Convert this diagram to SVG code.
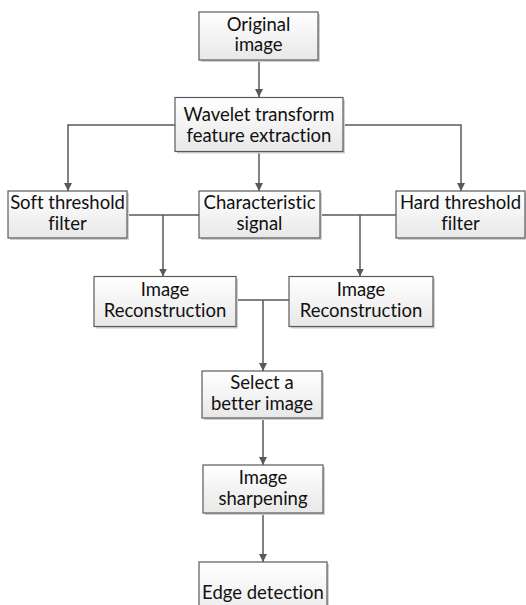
<svg xmlns="http://www.w3.org/2000/svg" width="526" height="605" viewBox="0 0 526 605">
<defs>
<linearGradient id="g" x1="0" y1="0" x2="0" y2="1">
<stop offset="0" stop-color="#ffffff"/>
<stop offset="1" stop-color="#e8e8e8"/>
</linearGradient>
<marker id="a" viewBox="0 0 10 10" refX="10" refY="5" markerWidth="8" markerHeight="8" markerUnits="userSpaceOnUse" orient="auto">
<path d="M0,0 L10,5 L0,10 z" fill="#595959"/>
</marker>
<style>
.s{fill:#d0d0d0;stroke:none}
.b{fill:url(#g);stroke:#5a5a5a;stroke-width:1.2}
text{font-family:Lato,"Open Sans","Liberation Sans",sans-serif;font-size:18.5px;fill:#111111;text-anchor:middle;font-variant-ligatures:none;font-feature-settings:"liga" 0,"dlig" 0}
.c{fill:none;stroke:#595959;stroke-width:1.5}
.ar{marker-end:url(#a)}
</style>
</defs>
<rect width="526" height="605" fill="#ffffff"/>
<g id="connectors">
<path class="c ar" d="M259,60 V97"/>
<path class="c ar" d="M175,125 H68 V191"/>
<path class="c ar" d="M259,151.5 V191"/>
<path class="c ar" d="M343,125 H461 V191"/>
<path class="c" d="M127,215 H199"/>
<path class="c ar" d="M163,215 V276.5"/>
<path class="c" d="M320,215 H396"/>
<path class="c ar" d="M360,215 V276.5"/>
<path class="c" d="M236,300 H289"/>
<path class="c ar" d="M263,300 V371"/>
<path class="c ar" d="M263,418 V465"/>
<path class="c ar" d="M263,513 V562"/>
</g>
<g id="n1">
<rect class="s" x="201" y="14" width="119" height="48"/>
<rect class="b" x="199" y="12" width="119" height="48"/>
<text x="258.5" y="31">Original</text>
<text x="258.5" y="51">image</text>
</g>
<g id="n2">
<rect class="s" x="177" y="99.5" width="168" height="54"/>
<rect class="b" x="175" y="97.5" width="168" height="54"/>
<text x="259" y="121">Wavelet transform</text>
<text x="259" y="142">feature extraction</text>
</g>
<g id="n3">
<rect class="s" x="10" y="193" width="119" height="47"/>
<rect class="b" x="8" y="191" width="119" height="47"/>
<text x="67.5" y="209">Soft threshold</text>
<text x="67.5" y="230">filter</text>
</g>
<g id="n4">
<rect class="s" x="201" y="193" width="121" height="47"/>
<rect class="b" x="199" y="191" width="121" height="47"/>
<text x="259.5" y="209">Characteristic</text>
<text x="259.5" y="230">signal</text>
</g>
<g id="n5">
<rect class="s" x="398" y="193" width="129" height="47"/>
<rect class="b" x="396" y="191" width="129" height="47"/>
<text x="460.5" y="209">Hard threshold</text>
<text x="460.5" y="230">filter</text>
</g>
<g id="n6">
<rect class="s" x="96" y="278.5" width="142" height="50"/>
<rect class="b" x="94" y="276.5" width="142" height="50"/>
<text x="165" y="296">Image</text>
<text x="165" y="317">Reconstruction</text>
</g>
<g id="n7">
<rect class="s" x="291" y="278.5" width="144" height="50"/>
<rect class="b" x="289" y="276.5" width="144" height="50"/>
<text x="361" y="296">Image</text>
<text x="361" y="317">Reconstruction</text>
</g>
<g id="n8">
<rect class="s" x="204" y="373" width="120" height="47"/>
<rect class="b" x="202" y="371" width="120" height="47"/>
<text x="262" y="389">Select a</text>
<text x="262" y="410">better image</text>
</g>
<g id="n9">
<rect class="s" x="205" y="467" width="120" height="48"/>
<rect class="b" x="203" y="465" width="120" height="48"/>
<text x="263" y="484">Image</text>
<text x="263" y="505">sharpening</text>
</g>
<g id="n10">
<rect class="s" x="201" y="564" width="128" height="60"/>
<rect class="b" x="199" y="562" width="128" height="60"/>
<text x="263" y="599">Edge detection</text>
</g>
</svg>
